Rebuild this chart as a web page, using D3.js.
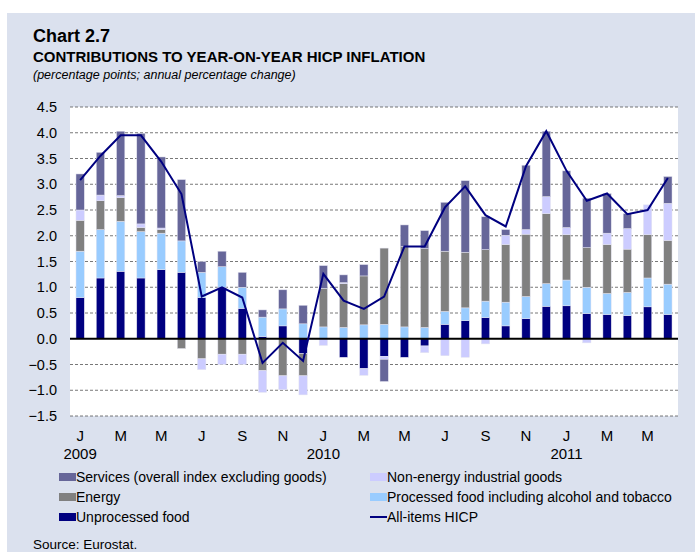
<!DOCTYPE html>
<html lang="en">
<head>
<meta charset="UTF-8">
<title>Chart 2.7</title>
<style>
  body { margin: 0; background: #fff; }
  text { font-family: "Liberation Sans", Arial, sans-serif; fill: #000; }
</style>
</head>
<body>
<script src="https://d3js.org/d3.v7.min.js"></script>
<script>
// months Jan 2009 - Jun 2011
const months = ["J","F","M","A","M","J","J","A","S","O","N","D",
                "J","F","M","A","M","J","J","A","S","O","N","D",
                "J","F","M","A","M","J"];
const years = ["2009","2010","2011"];

// contributions (percentage points)
const unprocessed = [0.80,1.18,1.31,1.18,1.34,1.29,0.80,1.00,0.59,0.04,0.25,-0.29,
                     0.00,-0.36,-0.58,-0.34,-0.36,-0.14,0.28,0.35,0.41,0.25,0.39,0.63,
                     0.64,0.49,0.47,0.45,0.62,0.47];
const processed = [0.90,0.94,0.97,0.90,0.71,0.61,0.49,0.40,0.41,0.38,0.33,0.29,
                   0.23,0.22,0.27,0.28,0.23,0.22,0.25,0.25,0.32,0.46,0.43,0.44,
                   0.50,0.51,0.41,0.45,0.56,0.59];
const energy = [0.60,0.56,0.46,0.08,0.07,-0.19,-0.39,-0.30,-0.30,-0.62,-0.72,-0.43,
                0.75,0.85,0.95,1.48,1.56,1.53,1.17,1.08,1.00,1.12,1.21,1.36,
                0.88,0.77,0.95,0.84,0.84,0.85];
const neig = [0.20,0.11,0.04,0.07,0.03,0.00,-0.21,-0.20,-0.20,-0.42,-0.27,-0.37,
              -0.13,0.02,-0.13,-0.06,0.00,-0.13,-0.33,-0.36,-0.10,0.18,0.09,0.33,
              0.14,-0.08,0.22,0.40,0.58,0.72];
const services = [0.70,0.83,1.25,1.76,1.38,1.19,0.21,0.30,0.29,0.14,0.37,0.36,
                  0.44,0.15,0.22,-0.43,0.42,0.35,0.95,1.39,0.64,0.11,1.25,1.27,
                  1.10,0.96,0.77,0.29,0.00,0.52];
// all-items HICP (annual % change)
const hicp = [3.08,3.55,3.95,3.95,3.44,2.81,0.82,1.00,0.80,-0.47,-0.08,-0.43,
              1.26,0.74,0.58,0.82,1.79,1.79,2.55,2.96,2.40,2.18,3.35,4.03,
              3.26,2.68,2.82,2.42,2.50,3.12];
const yTicks = [-1.5,-1.0,-0.5,0.0,0.5,1.0,1.5,2.0,2.5,3.0,3.5,4.0,4.5];

const keys = ["unprocessed","processed","energy","neig","services"];
const colors = {
  services: "#666699", neig: "#ccccff", energy: "#808080",
  processed: "#99ccff", unprocessed: "#000080"
};

const rows = months.map((m, i) => ({
  i: i, unprocessed: unprocessed[i], processed: processed[i],
  energy: energy[i], neig: neig[i], services: services[i], hicp: hicp[i]
}));

const W = 695, H = 552;
const plotL = 70, plotR = 678, plotT = 107, plotB = 416;

const svg = d3.select("body").append("svg")
  .attr("width", W).attr("height", H);

svg.append("rect").attr("x", 7).attr("y", 13)
  .attr("width", W - 7).attr("height", H - 13).attr("fill", "#dbe1ee");
svg.append("rect").attr("x", plotL).attr("y", plotT)
  .attr("width", plotR - plotL).attr("height", plotB - plotT).attr("fill", "#fff");

// titles
svg.append("text").attr("x", 33).attr("y", 42)
  .style("font-size", "18px").style("font-weight", "bold").text("Chart 2.7");
svg.append("text").attr("x", 33).attr("y", 62)
  .style("font-size", "15px").style("font-weight", "bold")
  .text("CONTRIBUTIONS TO YEAR-ON-YEAR HICP INFLATION");
svg.append("text").attr("x", 33).attr("y", 79)
  .style("font-size", "12.5px").style("font-style", "italic")
  .text("(percentage points; annual percentage change)");

const x = d3.scaleBand().domain(d3.range(months.length))
  .range([plotL, plotR]).paddingInner(0.59).paddingOuter(0.295);
const y = d3.scaleLinear().domain([-1.5, 4.5]).range([plotB, plotT]);

// gridlines
svg.append("g").selectAll("line").data(yTicks.filter(d => d !== 0))
  .join("line")
  .attr("x1", plotL).attr("x2", plotR)
  .attr("y1", d => y(d)).attr("y2", d => y(d))
  .attr("stroke", "#555").attr("stroke-width", 0.8)
  .attr("stroke-dasharray", "3,2");

// y axis labels
const yAxis = svg.append("g").attr("transform", `translate(${plotL},0)`)
  .call(d3.axisLeft(y).tickValues(yTicks).tickFormat(d3.format(".1f")).tickSize(0).tickPadding(13));
yAxis.select(".domain").remove();
yAxis.selectAll("text").style("font-size", "14.5px").attr("font-family", null);

// stacked bars
const series = d3.stack().keys(keys).offset(d3.stackOffsetDiverging)(rows);
svg.append("g").selectAll("g").data(series).join("g")
  .attr("fill", d => colors[d.key])
  .selectAll("rect").data(d => d).join("rect")
  .attr("x", d => x(d.data.i))
  .attr("width", x.bandwidth())
  .attr("y", d => y(Math.max(d[0], d[1])))
  .attr("height", d => Math.abs(y(d[0]) - y(d[1])))
  .attr("stroke", "#e4e4f0").attr("stroke-width", 0.5);

// zero line
svg.append("line").attr("x1", plotL).attr("x2", plotR)
  .attr("y1", y(0)).attr("y2", y(0))
  .attr("stroke", "#000").attr("stroke-width", 2);

// HICP line
const line = d3.line().x((d, i) => x(i) + x.bandwidth() / 2).y(d => y(d));
svg.append("path").datum(hicp).attr("d", line)
  .attr("fill", "none").attr("stroke", "#000080").attr("stroke-width", 2);

// x labels
svg.append("g").selectAll("text")
  .data(months.map((m, i) => ({ m: m, i: i })).filter(d => d.i % 2 === 0))
  .join("text")
  .attr("x", d => x(d.i) + x.bandwidth() / 2).attr("y", 441)
  .attr("text-anchor", "middle").style("font-size", "15px")
  .text(d => d.m);
svg.append("g").selectAll("text").data(years).join("text")
  .attr("x", (d, j) => x(j * 12) + x.bandwidth() / 2).attr("y", 459)
  .attr("text-anchor", "middle").style("font-size", "15px")
  .text(d => d);

// legend
const legend = [
  { label: "Services (overall index excluding goods)", key: "services", c: 0, r: 0 },
  { label: "Non-energy industrial goods", key: "neig", c: 1, r: 0 },
  { label: "Energy", key: "energy", c: 0, r: 1 },
  { label: "Processed food including alcohol and tobacco", key: "processed", c: 1, r: 1 },
  { label: "Unprocessed food", key: "unprocessed", c: 0, r: 2 },
  { label: "All-items HICP", key: "line", c: 1, r: 2 }
];
const lg = svg.append("g").selectAll("g").data(legend).join("g")
  .attr("transform", d => `translate(${d.c ? 370 : 59},${477 + d.r * 20})`);
lg.filter(d => d.key !== "line").append("rect")
  .attr("x", 0).attr("y", -4).attr("width", 17).attr("height", 8)
  .attr("fill", d => colors[d.key]);
lg.filter(d => d.key === "line").append("line")
  .attr("x1", 0).attr("x2", 17).attr("y1", 0).attr("y2", 0)
  .attr("stroke", "#000080").attr("stroke-width", 2);
lg.append("text").attr("x", 17).attr("y", 5)
  .style("font-size", "14px").text(d => d.label);

svg.append("text").attr("x", 33).attr("y", 549)
  .style("font-size", "13.5px").text("Source: Eurostat.");
</script>
</body>
</html>
